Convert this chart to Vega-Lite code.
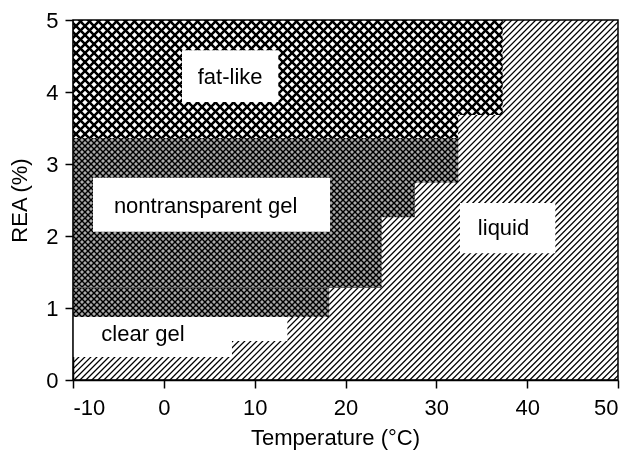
{
"$schema": "https://vega.github.io/schema/vega-lite/v6.json",
"width": 545, "height": 360,
"autosize": "none",
"padding": {"left": 73, "top": 20, "right": 9, "bottom": 74},
"background": "white",
"params": [{"name": "stripes", "value": [
{"offset":0,"color":"#000"},{"offset":0.005,"color":"#fff"},{"offset":0.01,"color":"#000"},{"offset":0.015,"color":"#fff"},{"offset":0.02,"color":"#000"},{"offset":0.025,"color":"#fff"},{"offset":0.03,"color":"#000"},{"offset":0.035,"color":"#fff"},{"offset":0.04,"color":"#000"},{"offset":0.045,"color":"#fff"},
{"offset":0.05,"color":"#000"},{"offset":0.055,"color":"#fff"},{"offset":0.06,"color":"#000"},{"offset":0.065,"color":"#fff"},{"offset":0.07,"color":"#000"},{"offset":0.075,"color":"#fff"},{"offset":0.08,"color":"#000"},{"offset":0.085,"color":"#fff"},{"offset":0.09,"color":"#000"},{"offset":0.095,"color":"#fff"},
{"offset":0.1,"color":"#000"},{"offset":0.105,"color":"#fff"},{"offset":0.11,"color":"#000"},{"offset":0.115,"color":"#fff"},{"offset":0.12,"color":"#000"},{"offset":0.125,"color":"#fff"},{"offset":0.13,"color":"#000"},{"offset":0.135,"color":"#fff"},{"offset":0.14,"color":"#000"},{"offset":0.145,"color":"#fff"},
{"offset":0.15,"color":"#000"},{"offset":0.155,"color":"#fff"},{"offset":0.16,"color":"#000"},{"offset":0.165,"color":"#fff"},{"offset":0.17,"color":"#000"},{"offset":0.175,"color":"#fff"},{"offset":0.18,"color":"#000"},{"offset":0.185,"color":"#fff"},{"offset":0.19,"color":"#000"},{"offset":0.195,"color":"#fff"},
{"offset":0.2,"color":"#000"},{"offset":0.205,"color":"#fff"},{"offset":0.21,"color":"#000"},{"offset":0.215,"color":"#fff"},{"offset":0.22,"color":"#000"},{"offset":0.225,"color":"#fff"},{"offset":0.23,"color":"#000"},{"offset":0.235,"color":"#fff"},{"offset":0.24,"color":"#000"},{"offset":0.245,"color":"#fff"},
{"offset":0.25,"color":"#000"},{"offset":0.255,"color":"#fff"},{"offset":0.26,"color":"#000"},{"offset":0.265,"color":"#fff"},{"offset":0.27,"color":"#000"},{"offset":0.275,"color":"#fff"},{"offset":0.28,"color":"#000"},{"offset":0.285,"color":"#fff"},{"offset":0.29,"color":"#000"},{"offset":0.295,"color":"#fff"},
{"offset":0.3,"color":"#000"},{"offset":0.305,"color":"#fff"},{"offset":0.31,"color":"#000"},{"offset":0.315,"color":"#fff"},{"offset":0.32,"color":"#000"},{"offset":0.325,"color":"#fff"},{"offset":0.33,"color":"#000"},{"offset":0.335,"color":"#fff"},{"offset":0.34,"color":"#000"},{"offset":0.345,"color":"#fff"},
{"offset":0.35,"color":"#000"},{"offset":0.355,"color":"#fff"},{"offset":0.36,"color":"#000"},{"offset":0.365,"color":"#fff"},{"offset":0.37,"color":"#000"},{"offset":0.375,"color":"#fff"},{"offset":0.38,"color":"#000"},{"offset":0.385,"color":"#fff"},{"offset":0.39,"color":"#000"},{"offset":0.395,"color":"#fff"},
{"offset":0.4,"color":"#000"},{"offset":0.405,"color":"#fff"},{"offset":0.41,"color":"#000"},{"offset":0.415,"color":"#fff"},{"offset":0.42,"color":"#000"},{"offset":0.425,"color":"#fff"},{"offset":0.43,"color":"#000"},{"offset":0.435,"color":"#fff"},{"offset":0.44,"color":"#000"},{"offset":0.445,"color":"#fff"},
{"offset":0.45,"color":"#000"},{"offset":0.455,"color":"#fff"},{"offset":0.46,"color":"#000"},{"offset":0.465,"color":"#fff"},{"offset":0.47,"color":"#000"},{"offset":0.475,"color":"#fff"},{"offset":0.48,"color":"#000"},{"offset":0.485,"color":"#fff"},{"offset":0.49,"color":"#000"},{"offset":0.495,"color":"#fff"},
{"offset":0.5,"color":"#000"},{"offset":0.505,"color":"#fff"},{"offset":0.51,"color":"#000"},{"offset":0.515,"color":"#fff"},{"offset":0.52,"color":"#000"},{"offset":0.525,"color":"#fff"},{"offset":0.53,"color":"#000"},{"offset":0.535,"color":"#fff"},{"offset":0.54,"color":"#000"},{"offset":0.545,"color":"#fff"},
{"offset":0.55,"color":"#000"},{"offset":0.555,"color":"#fff"},{"offset":0.56,"color":"#000"},{"offset":0.565,"color":"#fff"},{"offset":0.57,"color":"#000"},{"offset":0.575,"color":"#fff"},{"offset":0.58,"color":"#000"},{"offset":0.585,"color":"#fff"},{"offset":0.59,"color":"#000"},{"offset":0.595,"color":"#fff"},
{"offset":0.6,"color":"#000"},{"offset":0.605,"color":"#fff"},{"offset":0.61,"color":"#000"},{"offset":0.615,"color":"#fff"},{"offset":0.62,"color":"#000"},{"offset":0.625,"color":"#fff"},{"offset":0.63,"color":"#000"},{"offset":0.635,"color":"#fff"},{"offset":0.64,"color":"#000"},{"offset":0.645,"color":"#fff"},
{"offset":0.65,"color":"#000"}
]},
{"name": "cross", "value": [
{"offset":0,"color":"#000"},
{"offset":0.0015,"color":"#000"},{"offset":0.0025,"color":"#fff"},{"offset":0.0075,"color":"#fff"},{"offset":0.0085,"color":"#000"},
{"offset":0.0115,"color":"#000"},{"offset":0.0125,"color":"#fff"},{"offset":0.0175,"color":"#fff"},{"offset":0.0185,"color":"#000"},
{"offset":0.0215,"color":"#000"},{"offset":0.0225,"color":"#fff"},{"offset":0.0275,"color":"#fff"},{"offset":0.0285,"color":"#000"},
{"offset":0.0315,"color":"#000"},{"offset":0.0325,"color":"#fff"},{"offset":0.0375,"color":"#fff"},{"offset":0.0385,"color":"#000"},
{"offset":0.0415,"color":"#000"},{"offset":0.0425,"color":"#fff"},{"offset":0.0475,"color":"#fff"},{"offset":0.0485,"color":"#000"},
{"offset":0.0515,"color":"#000"},{"offset":0.0525,"color":"#fff"},{"offset":0.0575,"color":"#fff"},{"offset":0.0585,"color":"#000"},
{"offset":0.0615,"color":"#000"},{"offset":0.0625,"color":"#fff"},{"offset":0.0675,"color":"#fff"},{"offset":0.0685,"color":"#000"},
{"offset":0.0715,"color":"#000"},{"offset":0.0725,"color":"#fff"},{"offset":0.0775,"color":"#fff"},{"offset":0.0785,"color":"#000"},
{"offset":0.0815,"color":"#000"},{"offset":0.0825,"color":"#fff"},{"offset":0.0875,"color":"#fff"},{"offset":0.0885,"color":"#000"},
{"offset":0.0915,"color":"#000"},{"offset":0.0925,"color":"#fff"},{"offset":0.0975,"color":"#fff"},{"offset":0.0985,"color":"#000"},
{"offset":0.1015,"color":"#000"},{"offset":0.1025,"color":"#fff"},{"offset":0.1075,"color":"#fff"},{"offset":0.1085,"color":"#000"},
{"offset":0.1115,"color":"#000"},{"offset":0.1125,"color":"#fff"},{"offset":0.1175,"color":"#fff"},{"offset":0.1185,"color":"#000"},
{"offset":0.1215,"color":"#000"},{"offset":0.1225,"color":"#fff"},{"offset":0.1275,"color":"#fff"},{"offset":0.1285,"color":"#000"},
{"offset":0.1315,"color":"#000"},{"offset":0.1325,"color":"#fff"},{"offset":0.1375,"color":"#fff"},{"offset":0.1385,"color":"#000"},
{"offset":0.1415,"color":"#000"},{"offset":0.1425,"color":"#fff"},{"offset":0.1475,"color":"#fff"},{"offset":0.1485,"color":"#000"},
{"offset":0.1515,"color":"#000"},{"offset":0.1525,"color":"#fff"},{"offset":0.1575,"color":"#fff"},{"offset":0.1585,"color":"#000"},
{"offset":0.1615,"color":"#000"},{"offset":0.1625,"color":"#fff"},{"offset":0.1675,"color":"#fff"},{"offset":0.1685,"color":"#000"},
{"offset":0.1715,"color":"#000"},{"offset":0.1725,"color":"#fff"},{"offset":0.1775,"color":"#fff"},{"offset":0.1785,"color":"#000"},
{"offset":0.1815,"color":"#000"},{"offset":0.1825,"color":"#fff"},{"offset":0.1875,"color":"#fff"},{"offset":0.1885,"color":"#000"},
{"offset":0.1915,"color":"#000"},{"offset":0.1925,"color":"#fff"},{"offset":0.1975,"color":"#fff"},{"offset":0.1985,"color":"#000"},
{"offset":0.2015,"color":"#000"},{"offset":0.2025,"color":"#fff"},{"offset":0.2075,"color":"#fff"},{"offset":0.2085,"color":"#000"},
{"offset":0.2115,"color":"#000"},{"offset":0.2125,"color":"#fff"},{"offset":0.2175,"color":"#fff"},{"offset":0.2185,"color":"#000"},
{"offset":0.2215,"color":"#000"},{"offset":0.2225,"color":"#fff"},{"offset":0.2275,"color":"#fff"},{"offset":0.2285,"color":"#000"},
{"offset":0.2315,"color":"#000"},{"offset":0.2325,"color":"#fff"},{"offset":0.2375,"color":"#fff"},{"offset":0.2385,"color":"#000"},
{"offset":0.2415,"color":"#000"},{"offset":0.2425,"color":"#fff"},{"offset":0.2475,"color":"#fff"},{"offset":0.2485,"color":"#000"},
{"offset":0.2515,"color":"#000"},{"offset":0.2525,"color":"#fff"},{"offset":0.2575,"color":"#fff"},{"offset":0.2585,"color":"#000"},
{"offset":0.2615,"color":"#000"},{"offset":0.2625,"color":"#fff"},{"offset":0.2675,"color":"#fff"},{"offset":0.2685,"color":"#000"},
{"offset":0.2715,"color":"#000"},{"offset":0.2725,"color":"#fff"},{"offset":0.2775,"color":"#fff"},{"offset":0.2785,"color":"#000"},
{"offset":0.2815,"color":"#000"},{"offset":0.2825,"color":"#fff"},{"offset":0.2875,"color":"#fff"},{"offset":0.2885,"color":"#000"},
{"offset":0.2915,"color":"#000"},{"offset":0.2925,"color":"#fff"},{"offset":0.2975,"color":"#fff"},{"offset":0.2985,"color":"#000"},
{"offset":0.3015,"color":"#000"},{"offset":0.3025,"color":"#fff"},{"offset":0.3075,"color":"#fff"},{"offset":0.3085,"color":"#000"},
{"offset":0.3115,"color":"#000"},{"offset":0.3125,"color":"#fff"},{"offset":0.3175,"color":"#fff"},{"offset":0.3185,"color":"#000"},
{"offset":0.3215,"color":"#000"},{"offset":0.3225,"color":"#fff"},{"offset":0.3275,"color":"#fff"},{"offset":0.3285,"color":"#000"},
{"offset":0.3315,"color":"#000"},{"offset":0.3325,"color":"#fff"},{"offset":0.3375,"color":"#fff"},{"offset":0.3385,"color":"#000"},
{"offset":0.3415,"color":"#000"},{"offset":0.3425,"color":"#fff"},{"offset":0.3475,"color":"#fff"},{"offset":0.3485,"color":"#000"},
{"offset":0.3515,"color":"#000"},{"offset":0.3525,"color":"#fff"},{"offset":0.3575,"color":"#fff"},{"offset":0.3585,"color":"#000"},
{"offset":0.3615,"color":"#000"},{"offset":0.3625,"color":"#fff"},{"offset":0.3675,"color":"#fff"},{"offset":0.3685,"color":"#000"},
{"offset":0.3715,"color":"#000"},{"offset":0.3725,"color":"#fff"},{"offset":0.3775,"color":"#fff"},{"offset":0.3785,"color":"#000"},
{"offset":0.3815,"color":"#000"},{"offset":0.3825,"color":"#fff"},{"offset":0.3875,"color":"#fff"},{"offset":0.3885,"color":"#000"},
{"offset":0.3915,"color":"#000"},{"offset":0.3925,"color":"#fff"},{"offset":0.3975,"color":"#fff"},{"offset":0.3985,"color":"#000"},
{"offset":0.4015,"color":"#000"},{"offset":0.4025,"color":"#fff"},{"offset":0.4075,"color":"#fff"},{"offset":0.4085,"color":"#000"},
{"offset":0.4115,"color":"#000"},{"offset":0.4125,"color":"#fff"},{"offset":0.4175,"color":"#fff"},{"offset":0.4185,"color":"#000"},
{"offset":0.4215,"color":"#000"},{"offset":0.4225,"color":"#fff"},{"offset":0.4275,"color":"#fff"},{"offset":0.4285,"color":"#000"},
{"offset":0.4315,"color":"#000"},{"offset":0.4325,"color":"#fff"},{"offset":0.4375,"color":"#fff"},{"offset":0.4385,"color":"#000"},
{"offset":0.4415,"color":"#000"},{"offset":0.4425,"color":"#fff"},{"offset":0.4475,"color":"#fff"},{"offset":0.4485,"color":"#000"},
{"offset":0.4515,"color":"#000"},{"offset":0.4525,"color":"#fff"},{"offset":0.4575,"color":"#fff"},{"offset":0.4585,"color":"#000"},
{"offset":0.4615,"color":"#000"},{"offset":0.4625,"color":"#fff"},{"offset":0.4675,"color":"#fff"},{"offset":0.4685,"color":"#000"},
{"offset":0.4715,"color":"#000"},{"offset":0.4725,"color":"#fff"},{"offset":0.4775,"color":"#fff"},{"offset":0.4785,"color":"#000"},
{"offset":0.4815,"color":"#000"},{"offset":0.4825,"color":"#fff"},{"offset":0.4875,"color":"#fff"},{"offset":0.4885,"color":"#000"},
{"offset":0.4915,"color":"#000"},{"offset":0.4925,"color":"#fff"},{"offset":0.4975,"color":"#fff"},{"offset":0.4985,"color":"#000"},
{"offset":0.5015,"color":"#000"},{"offset":0.5025,"color":"#fff"},{"offset":0.5075,"color":"#fff"},{"offset":0.5085,"color":"#000"},
{"offset":0.5115,"color":"#000"},{"offset":0.5125,"color":"#fff"},{"offset":0.5175,"color":"#fff"},{"offset":0.5185,"color":"#000"},
{"offset":0.5215,"color":"#000"},{"offset":0.5225,"color":"#fff"},{"offset":0.5275,"color":"#fff"},{"offset":0.5285,"color":"#000"},
{"offset":0.5315,"color":"#000"},{"offset":0.5325,"color":"#fff"},{"offset":0.5375,"color":"#fff"},{"offset":0.5385,"color":"#000"},
{"offset":0.5415,"color":"#000"},{"offset":0.5425,"color":"#fff"},{"offset":0.5475,"color":"#fff"},{"offset":0.5485,"color":"#000"},
{"offset":0.5515,"color":"#000"},{"offset":0.5525,"color":"#fff"},{"offset":0.5575,"color":"#fff"},{"offset":0.5585,"color":"#000"},
{"offset":0.5615,"color":"#000"},{"offset":0.5625,"color":"#fff"},{"offset":0.5675,"color":"#fff"},{"offset":0.5685,"color":"#000"},
{"offset":0.5715,"color":"#000"},{"offset":0.5725,"color":"#fff"},{"offset":0.5775,"color":"#fff"},{"offset":0.5785,"color":"#000"},
{"offset":0.5815,"color":"#000"},{"offset":0.5825,"color":"#fff"},{"offset":0.5875,"color":"#fff"},{"offset":0.5885,"color":"#000"},
{"offset":0.5915,"color":"#000"},{"offset":0.5925,"color":"#fff"},{"offset":0.5975,"color":"#fff"},{"offset":0.5985,"color":"#000"},
{"offset":0.6015,"color":"#000"},{"offset":0.6025,"color":"#fff"},{"offset":0.6075,"color":"#fff"},{"offset":0.6085,"color":"#000"},
{"offset":0.6115,"color":"#000"},{"offset":0.6125,"color":"#fff"},{"offset":0.6175,"color":"#fff"},{"offset":0.6185,"color":"#000"}
]}],
"config": {
  "font": "Liberation Sans",
  "view": {"stroke": null},
  "axis": {"grid": false, "domainColor": "black", "domainWidth": 1.5, "tickColor": "black", "tickWidth": 1.5, "labelColor": "black", "titleColor": "black", "labelFontSize": 22, "titleFontSize": 22, "titleFontWeight": "normal", "zindex": 1}
},
"datasets": {
  "fat": [{"t1": -10, "t2": 32.4, "r1": 3.36, "r2": 5}, {"t1": 32.4, "t2": 37.3, "r1": 3.68, "r2": 5}],
  "gel": [{"t1": -10, "t2": 32.4, "r1": 2.74, "r2": 3.36}, {"t1": -10, "t2": 27.6, "r1": 2.26, "r2": 2.74}, {"t1": -10, "t2": 24.0, "r1": 1.28, "r2": 2.26}, {"t1": -10, "t2": 18.2, "r1": 0.875, "r2": 1.28}],
  "clear": [{"t1": -10, "t2": 13.6, "r1": 0.54, "r2": 0.875}, {"t1": -10, "t2": 7.5, "r1": 0.32, "r2": 0.54}],
  "boxes": [{"t1": 2.0, "t2": 12.6, "r1": 3.86, "r2": 4.58}, {"t1": -7.8, "t2": 18.3, "r1": 2.06, "r2": 2.81}, {"t1": 32.6, "t2": 43.1, "r1": 1.76, "r2": 2.46}],
  "labels": [{"label": "fat-like", "t": 7.3, "r": 4.21}, {"label": "nontransparent gel", "t": 4.6, "r": 2.42}, {"label": "liquid", "t": 37.4, "r": 2.11}, {"label": "clear gel", "t": -2.3, "r": 0.64}]
},
"layer": [
  {
    "data": {"values": [{}]},
    "mark": {"type": "rule", "clip": true, "stroke": "#000", "strokeWidth": 720, "strokeDash": [1.3, 2.94]},
    "encoding": {
      "x": {"datum": -24.04, "type": "quantitative"},
      "y": {"datum": 8.056, "type": "quantitative"},
      "x2": {"datum": 64.04},
      "y2": {"datum": -3.056}
    }
  },
  {
    "data": {"name": "fat"},
    "mark": {"type": "rect", "fill": {"expr": "{gradient:'linear',x1:-((datum.t1+10)*9.08333+(5-datum.r2)*72)/((datum.t2-datum.t1)*9.08333),y1:0,x2:-((datum.t1+10)*9.08333+(5-datum.r2)*72)/((datum.t2-datum.t1)*9.08333)+900*(datum.t2-datum.t1)*9.08333/(pow((datum.t2-datum.t1)*9.08333,2)+pow((datum.r2-datum.r1)*72,2)),y2:900*(datum.r2-datum.r1)*72/(pow((datum.t2-datum.t1)*9.08333,2)+pow((datum.r2-datum.r1)*72,2)),stops:cross}"}},
    "encoding": {
      "x": {"field": "t1", "type": "quantitative", "scale": {"domain": [-10, 50], "nice": false, "zero": false},
            "axis": {"values": [-10, 0, 10, 20, 30, 40, 50], "labelExpr": "datum.value < 0 ? '-' + abs(datum.value) : '' + datum.value", "tickSize": 8, "labelPadding": 9, "title": "Temperature (°C)", "titlePadding": 9, "titleX": 262}},
      "x2": {"field": "t2"},
      "y": {"field": "r1", "type": "quantitative", "scale": {"domain": [0, 5], "nice": false, "zero": false},
            "axis": {"values": [0, 0.5, 1, 1.5, 2, 2.5, 3, 3.5, 4, 4.5, 5], "labelExpr": "datum.value % 1 === 0 ? '' + datum.value : ''", "tickSize": 8, "labelPadding": 7, "title": "REA (%)", "titlePadding": 14}},
      "y2": {"field": "r2"}
    }
  },
  {
    "data": {"name": "fat"},
    "mark": {"type": "rect", "blend": "multiply", "fill": {"expr": "{gradient:'linear',x1:-((datum.t1+10)*9.08333-(5-datum.r2)*72+120)/((datum.t2-datum.t1)*9.08333),y1:0,x2:-((datum.t1+10)*9.08333-(5-datum.r2)*72+120)/((datum.t2-datum.t1)*9.08333)+900*(datum.t2-datum.t1)*9.08333/(pow((datum.t2-datum.t1)*9.08333,2)+pow((datum.r2-datum.r1)*72,2)),y2:-900*(datum.r2-datum.r1)*72/(pow((datum.t2-datum.t1)*9.08333,2)+pow((datum.r2-datum.r1)*72,2)),stops:cross}"}},
    "encoding": {
      "x": {"field": "t1", "type": "quantitative"},
      "x2": {"field": "t2"},
      "y": {"field": "r1", "type": "quantitative"},
      "y2": {"field": "r2"}
    }
  },
  {
    "data": {"name": "gel"},
    "mark": {"type": "rect", "fill": {"expr": "{gradient:'linear',x1:-((datum.t1+10)*9.08333)/((datum.t2-datum.t1)*9.08333),y1:0,x2:(600-(datum.t1+10)*9.08333)/((datum.t2-datum.t1)*9.08333),y2:0,stops:stripes}"}},
    "encoding": {
      "x": {"field": "t1", "type": "quantitative"},
      "x2": {"field": "t2"},
      "y": {"field": "r1", "type": "quantitative"},
      "y2": {"field": "r2"}
    }
  },
  {
    "data": {"name": "gel"},
    "mark": {"type": "rect", "blend": "difference", "fill": {"expr": "{gradient:'linear',x1:1,y1:-((5-datum.r2)*72)/((datum.r2-datum.r1)*72),x2:1,y2:(600-(5-datum.r2)*72)/((datum.r2-datum.r1)*72),stops:stripes}"}},
    "encoding": {
      "x": {"field": "t1", "type": "quantitative"},
      "x2": {"field": "t2"},
      "y": {"field": "r1", "type": "quantitative"},
      "y2": {"field": "r2"}
    }
  },
  {
    "data": {"name": "clear"},
    "mark": {"type": "rect", "fill": "white"},
    "encoding": {
      "x": {"field": "t1", "type": "quantitative"},
      "x2": {"field": "t2"},
      "y": {"field": "r1", "type": "quantitative"},
      "y2": {"field": "r2"}
    }
  },
  {
    "data": {"name": "boxes"},
    "mark": {"type": "rect", "fill": "white"},
    "encoding": {
      "x": {"field": "t1", "type": "quantitative"},
      "x2": {"field": "t2"},
      "y": {"field": "r1", "type": "quantitative"},
      "y2": {"field": "r2"}
    }
  },
  {
    "data": {"name": "labels"},
    "mark": {"type": "text", "fontSize": 22, "color": "black", "align": "center", "baseline": "middle"},
    "encoding": {
      "x": {"field": "t", "type": "quantitative"},
      "y": {"field": "r", "type": "quantitative"},
      "text": {"field": "label"}
    }
  },
  {
    "data": {"values": [{}]},
    "mark": {"type": "rect", "filled": false, "stroke": "black", "strokeWidth": 1.5},
    "encoding": {
      "x": {"datum": -10, "type": "quantitative"},
      "x2": {"datum": 50},
      "y": {"datum": 0, "type": "quantitative"},
      "y2": {"datum": 5}
    }
  }
]
}
